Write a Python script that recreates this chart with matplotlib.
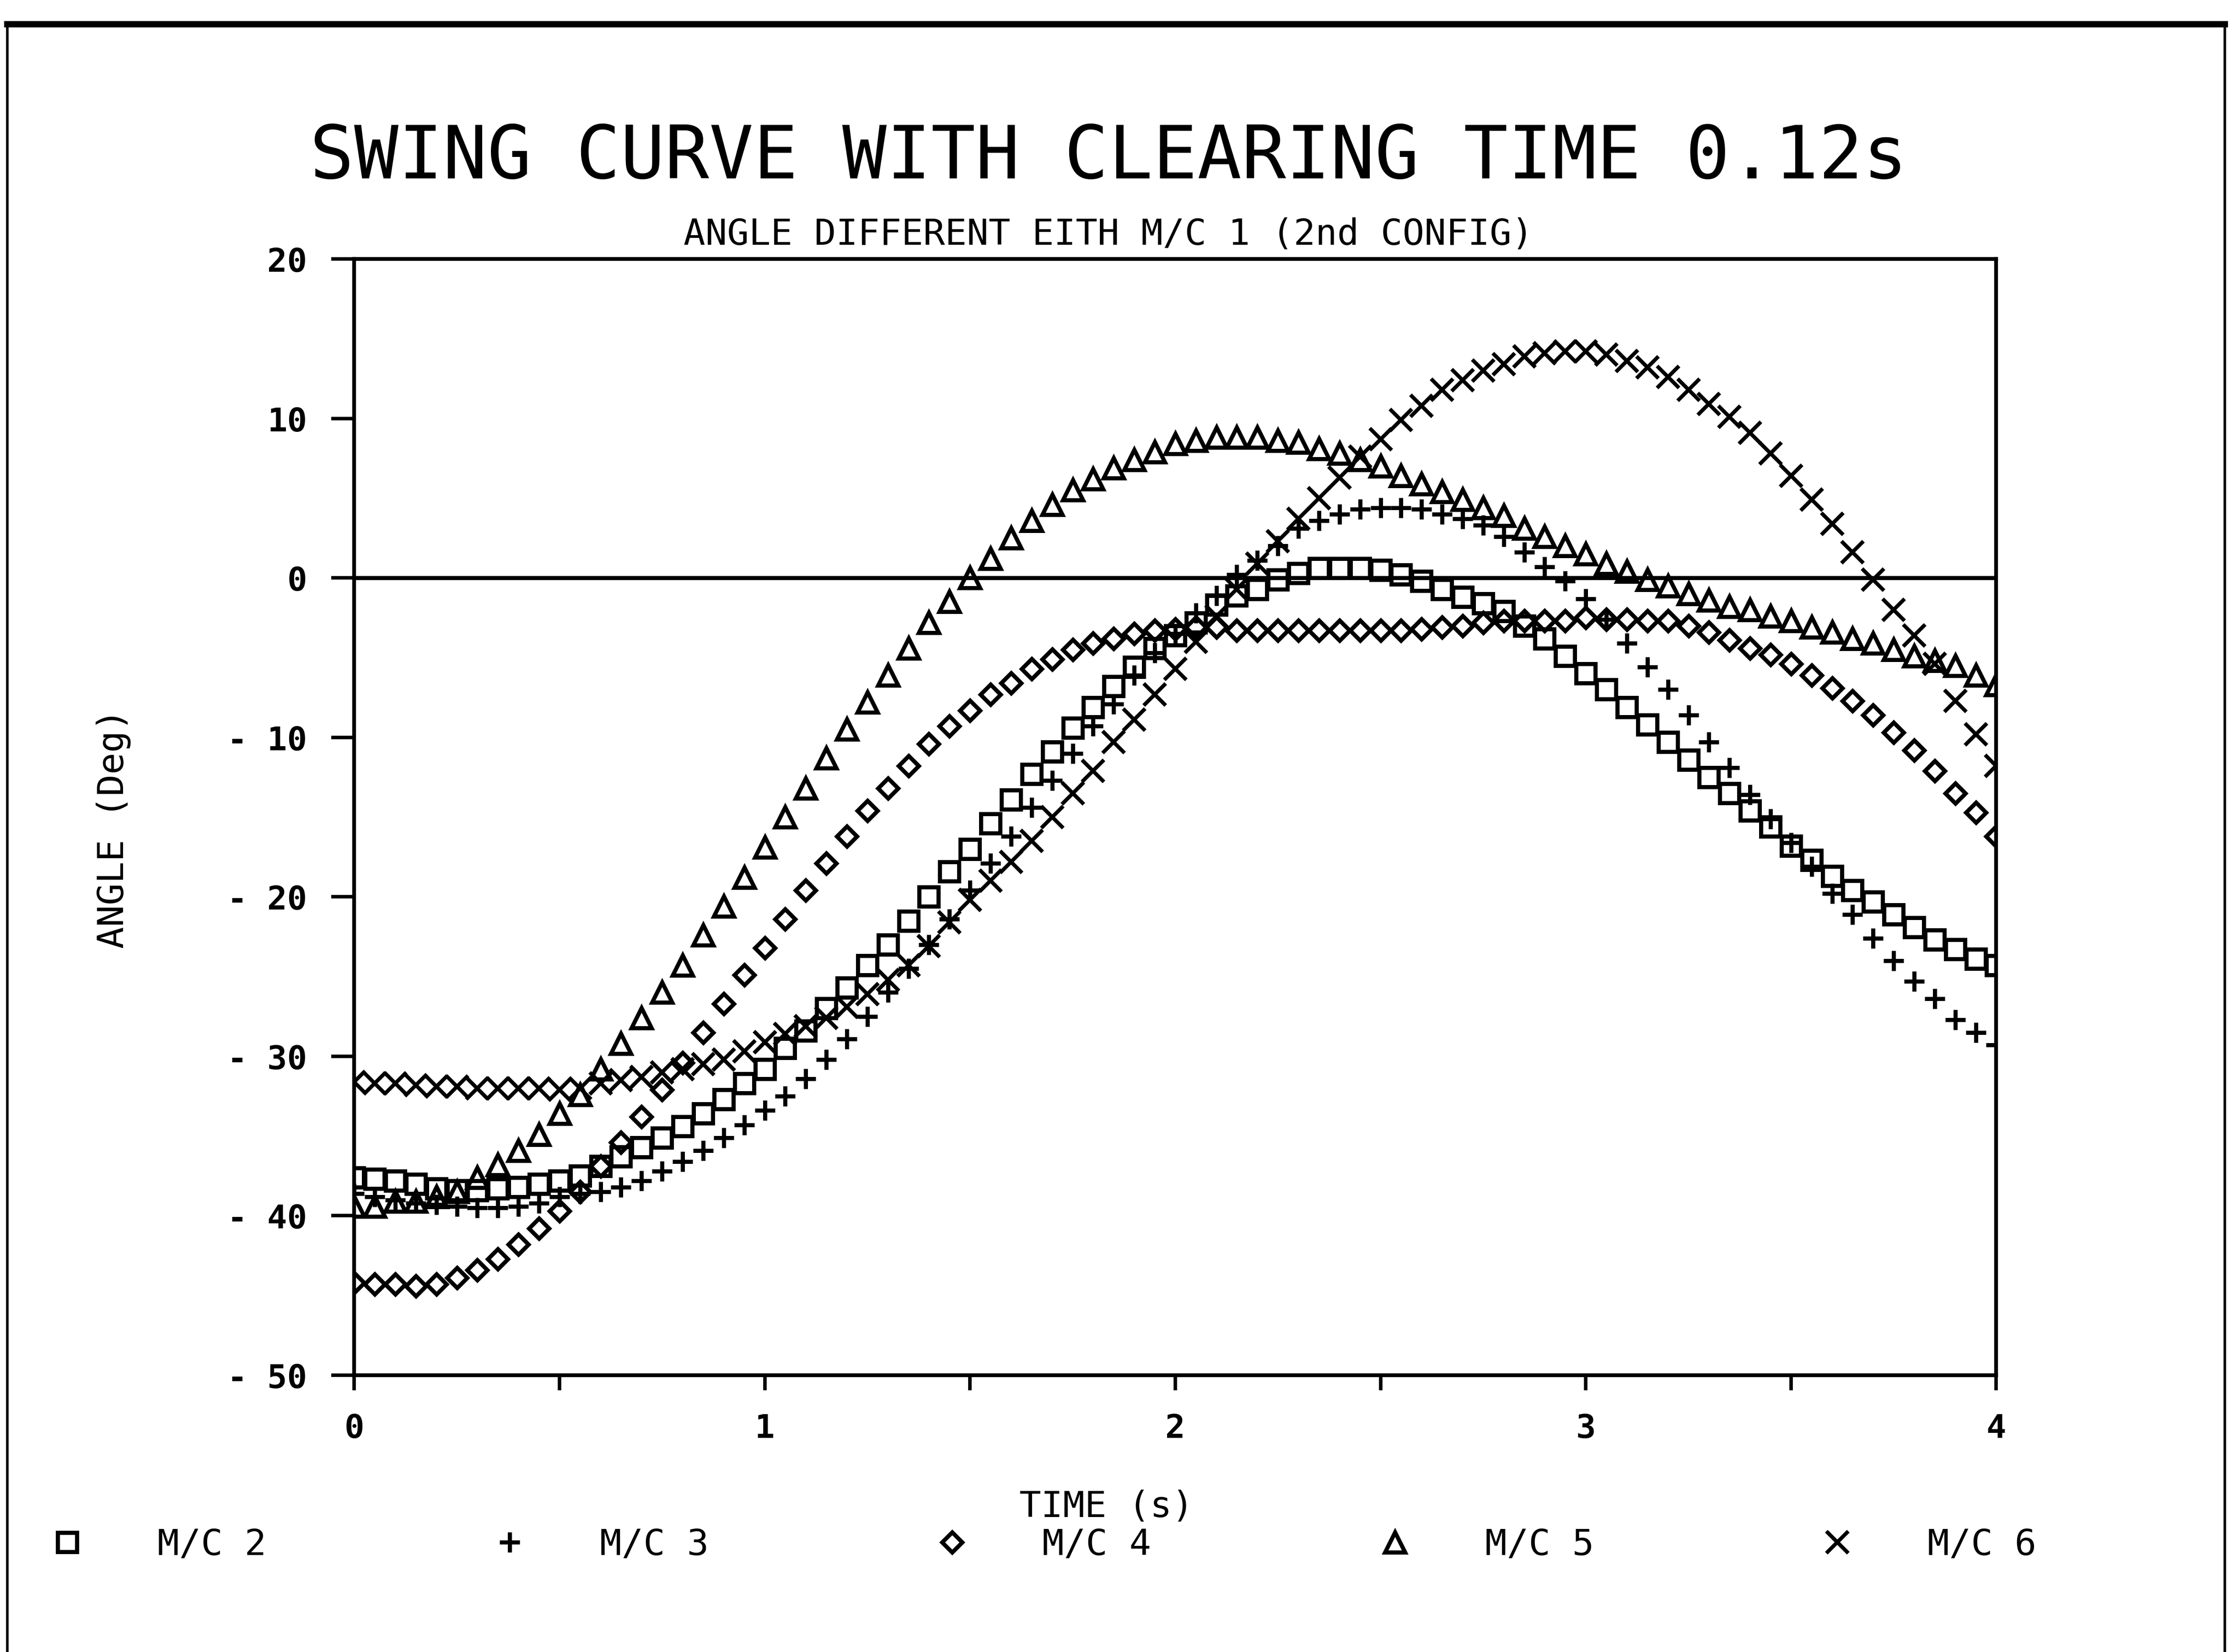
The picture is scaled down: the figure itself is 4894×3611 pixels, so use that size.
import numpy as np
import matplotlib
matplotlib.use("Agg")
import matplotlib.pyplot as plt
from matplotlib.lines import Line2D

plt.rcParams["font.family"] = ["DejaVu Sans Mono", "DejaVu Sans"]

# sample times: one marker every 0.05 s from 0 to 4 s
time_s = np.linspace(0.0, 4.0, 81)

mc2 = [-37.6, -37.7, -37.8, -38.0, -38.3, -38.4, -38.4, -38.3, -38.2, -38.0,
       -37.8, -37.5, -36.9, -36.3, -35.7, -35.1, -34.4, -33.6, -32.7, -31.7,
       -30.8, -29.5, -28.4, -27.0, -25.7, -24.3, -23.0, -21.5, -20.0, -18.4,
       -17.0, -15.4, -13.9, -12.3, -10.9, -9.4, -8.1, -6.8, -5.6, -4.4,
       -3.6, -2.8, -1.7, -1.1, -0.7, -0.1, 0.3, 0.6, 0.6, 0.6,
       0.5, 0.2, -0.2, -0.7, -1.2, -1.6, -2.1, -3.0, -3.8, -4.9,
       -6.0, -7.0, -8.1, -9.2, -10.3, -11.4, -12.5, -13.5, -14.6, -15.6,
       -16.8, -17.7, -18.7, -19.6, -20.3, -21.1, -21.9, -22.7, -23.3, -23.9,
       -24.3]

mc3 = [-38.6, -38.8, -39.0, -39.2, -39.3, -39.4, -39.5, -39.5, -39.4, -39.2,
       -38.8, -38.6, -38.5, -38.2, -37.8, -37.2, -36.6, -35.9, -35.1, -34.3,
       -33.4, -32.5, -31.4, -30.2, -28.9, -27.5, -26.0, -24.5, -23.0, -21.4,
       -19.6, -17.9, -16.2, -14.4, -12.7, -11.0, -9.3, -7.9, -6.1, -4.7,
       -3.5, -2.2, -1.1, 0.2, 1.1, 2.0, 3.1, 3.6, 4.0, 4.3,
       4.4, 4.4, 4.3, 4.0, 3.7, 3.3, 2.6, 1.6, 0.7, -0.2,
       -1.3, -2.6, -4.1, -5.6, -7.0, -8.6, -10.3, -11.9, -13.6, -15.1,
       -16.6, -18.1, -19.8, -21.1, -22.6, -24.0, -25.3, -26.4, -27.7, -28.5,
       -29.3]

mc4 = [-44.2, -44.3, -44.3, -44.4, -44.3, -43.9, -43.4, -42.7, -41.8, -40.8,
       -39.7, -38.5, -36.9, -35.4, -33.8, -32.1, -30.4, -28.5, -26.7, -24.9,
       -23.2, -21.4, -19.6, -17.9, -16.2, -14.6, -13.2, -11.8, -10.4, -9.3,
       -8.3, -7.3, -6.6, -5.7, -5.1, -4.5, -4.1, -3.8, -3.5, -3.3,
       -3.2, -3.1, -3.1, -3.3, -3.3, -3.3, -3.3, -3.3, -3.3, -3.3,
       -3.3, -3.3, -3.2, -3.1, -3.0, -2.8, -2.7, -2.7, -2.7, -2.7,
       -2.5, -2.6, -2.6, -2.7, -2.7, -3.0, -3.4, -3.9, -4.4, -4.8,
       -5.4, -6.1, -6.9, -7.7, -8.6, -9.7, -10.8, -12.1, -13.5, -14.7,
       -16.2]

mc5 = [-39.4, -39.4, -39.1, -39.1, -38.8, -38.5, -37.6, -36.8, -35.9, -34.9,
       -33.6, -32.4, -30.8, -29.2, -27.6, -26.0, -24.3, -22.4, -20.6, -18.8,
       -16.9, -15.0, -13.2, -11.3, -9.5, -7.8, -6.1, -4.4, -2.8, -1.5,
       0.0, 1.2, 2.5, 3.6, 4.6, 5.5, 6.2, 6.9, 7.4, 7.9,
       8.4, 8.6, 8.8, 8.8, 8.8, 8.6, 8.5, 8.1, 7.8, 7.4,
       7.0, 6.4, 5.9, 5.4, 4.9, 4.4, 3.9, 3.1, 2.6, 2.0,
       1.5, 0.9, 0.4, -0.1, -0.5, -1.0, -1.4, -1.8, -2.0, -2.4,
       -2.7, -3.1, -3.4, -3.8, -4.1, -4.5, -4.9, -5.2, -5.5, -6.1,
       -6.7]

mc6 = [-31.6, -31.7, -31.7, -31.8, -31.9, -31.9, -32.0, -32.0, -32.0, -32.0,
       -32.1, -32.0, -31.7, -31.5, -31.3, -31.0, -30.8, -30.5, -30.2, -29.7,
       -29.1, -28.6, -28.1, -27.6, -26.9, -26.1, -25.2, -24.3, -23.1, -21.6,
       -20.2, -19.0, -17.8, -16.5, -15.0, -13.5, -12.1, -10.3, -8.9, -7.3,
       -5.7, -4.0, -2.4, -0.7, 0.9, 2.3, 3.7, 5.0, 6.3, 7.6,
       8.7, 9.9, 10.8, 11.8, 12.4, 13.0, 13.4, 13.9, 14.1, 14.2,
       14.2, 14.0, 13.6, 13.2, 12.6, 11.8, 10.9, 10.1, 9.1, 7.8,
       6.4, 4.9, 3.4, 1.6, -0.1, -2.0, -3.6, -5.4, -7.7, -9.8,
       -11.8]

series_labels = ["M/C 2", "M/C 3", "M/C 4", "M/C 5", "M/C 6"]
y_ticks = [-50, -40, -30, -20, -10, 0, 10, 20]
y_tick_labels = ["- 50", "- 40", "- 30", "- 20", "- 10", "0", "10", "20"]
x_ticks = [0, 0.5, 1, 1.5, 2, 2.5, 3, 3.5, 4]
x_tick_labels = ["0", "", "1", "", "2", "", "3", "", "4"]

fig = plt.figure(figsize=(48.94, 36.12), dpi=100)
ax = fig.add_axes([0.1582, 0.1675, 0.7334, 0.6755])

styles = [
    dict(marker="s", ms=30, mew=6.5),
    dict(marker="+", ms=32, mew=6.5),
    dict(marker="D", ms=22, mew=6.5),
    dict(marker="^", ms=32, mew=6.5),
    dict(marker="x", ms=34, mew=6),
]
for vals, lab, st in zip([mc2, mc3, mc4, mc5, mc6], series_labels, styles):
    ax.plot(time_s, vals, linestyle="none", color="black", mfc="none",
            mec="black", label=lab, zorder=3, **st)

ax.axhline(0, color="black", lw=6.5, zorder=2)

ax.set_xlim(0, 4)
ax.set_ylim(-50, 20)
ax.set_xticks(x_ticks)
ax.set_xticklabels(x_tick_labels)
ax.set_yticks(y_ticks)
ax.set_yticklabels(y_tick_labels)
for s in ax.spines.values():
    s.set_linewidth(6)
ax.tick_params(axis="y", direction="out", length=36, width=5.5, pad=38,
               labelsize=52)
ax.tick_params(axis="x", direction="out", length=24, width=5.5, pad=35,
               labelsize=52)
for lbl in ax.get_xticklabels() + ax.get_yticklabels():
    lbl.set_fontweight("bold")

ax.set_ylabel("ANGLE (Deg)", fontsize=57)
ax.yaxis.set_label_coords(-0.136, 0.49)
ax.set_xlabel("TIME (s)", fontsize=57)
ax.xaxis.set_label_coords(0.458, -0.102)

fig.text(0.495, 0.892, "SWING CURVE WITH CLEARING TIME 0.12s", ha="center",
         va="baseline", fontsize=116)
fig.text(0.495, 0.852, "ANGLE DIFFERENT EITH M/C 1 (2nd CONFIG)", ha="center",
         va="baseline", fontsize=57)

fig.legend(loc="center left", bbox_to_anchor=(0.0219, 0.065), ncol=5,
           frameon=False, handlelength=1.0, handletextpad=1.99,
           columnspacing=6.22, borderpad=0, borderaxespad=0, numpoints=1,
           prop={"size": 57})

# outer page frame
fig.add_artist(Line2D([0.0032, 0.9937], [0.985, 0.985], color="black", lw=10,
                      transform=fig.transFigure))
fig.add_artist(Line2D([0.0032, 0.0032], [0.0, 0.985], color="black", lw=4,
                      transform=fig.transFigure))
fig.add_artist(Line2D([0.9937, 0.9937], [0.0, 0.985], color="black", lw=4,
                      transform=fig.transFigure))

fig.savefig("out.png", dpi=100, facecolor="white")
